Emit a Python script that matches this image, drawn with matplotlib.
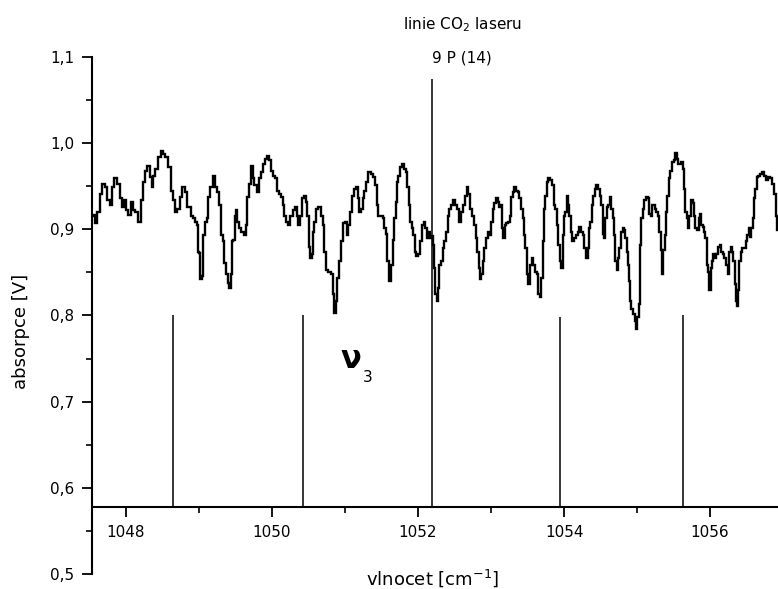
import matplotlib
matplotlib.use("Agg")
import matplotlib.pyplot as plt
from matplotlib.ticker import MultipleLocator, FuncFormatter

# ---- data ----
wavenumber = [
    1047.544, 1047.562, 1047.589, 1047.621, 1047.653, 1047.690, 1047.726, 1047.758, 1047.790, 1047.818,
    1047.863, 1047.895, 1047.927, 1047.954, 1047.986, 1048.018, 1048.046, 1048.078, 1048.110, 1048.146,
    1048.183, 1048.215, 1048.247, 1048.274, 1048.306, 1048.338, 1048.361, 1048.384, 1048.420, 1048.457,
    1048.489, 1048.521, 1048.557, 1048.594, 1048.626, 1048.649, 1048.685, 1048.717, 1048.749, 1048.786,
    1048.822, 1048.858,
    1048.876, 1048.899, 1048.931, 1048.958, 1048.976, 1048.990, 1049.013, 1049.022, 1049.050, 1049.068,
    1049.095, 1049.113, 1049.141, 1049.173, 1049.205, 1049.232, 1049.264, 1049.296, 1049.314, 1049.333,
    1049.351, 1049.378, 1049.406, 1049.424, 1049.447, 1049.461, 1049.479, 1049.497, 1049.515, 1049.538,
    1049.561, 1049.597, 1049.629, 1049.652, 1049.675, 1049.698, 1049.721, 1049.744, 1049.771, 1049.812,
    1049.835, 1049.862, 1049.881, 1049.917, 1049.949, 1049.972, 1049.995, 1050.027, 1050.054, 1050.082,
    1050.109, 1050.136, 1050.155, 1050.177, 1050.200, 1050.228,
    1050.269, 1050.301, 1050.328, 1050.346, 1050.374, 1050.392, 1050.420, 1050.451, 1050.474, 1050.497,
    1050.511, 1050.529, 1050.556, 1050.566, 1050.588, 1050.611, 1050.648, 1050.680, 1050.703, 1050.721,
    1050.748, 1050.785, 1050.817, 1050.840, 1050.862, 1050.885, 1050.908, 1050.931, 1050.954, 1050.977,
    1051.013, 1051.031, 1051.059, 1051.086, 1051.114, 1051.136, 1051.159, 1051.182, 1051.205, 1051.228,
    1051.251, 1051.273, 1051.296, 1051.333, 1051.365, 1051.397, 1051.424, 1051.442, 1051.470, 1051.502,
    1051.525, 1051.547, 1051.570, 1051.584, 1051.607,
    1051.639, 1051.662, 1051.685, 1051.698, 1051.716, 1051.744, 1051.767, 1051.790, 1051.817, 1051.844,
    1051.863, 1051.881, 1051.899, 1051.927, 1051.945, 1051.963, 1051.990, 1052.018, 1052.036, 1052.063,
    1052.091, 1052.109, 1052.127, 1052.155, 1052.173, 1052.191, 1052.210, 1052.228, 1052.246, 1052.264,
    1052.283, 1052.301, 1052.324, 1052.347, 1052.374, 1052.401, 1052.420, 1052.438, 1052.465, 1052.493,
    1052.520, 1052.547, 1052.575, 1052.602, 1052.630, 1052.657, 1052.675, 1052.694, 1052.721, 1052.748,
    1052.776, 1052.803, 1052.821, 1052.840, 1052.858, 1052.876, 1052.895, 1052.917, 1052.940, 1052.968,
    1052.986, 1053.009, 1053.032, 1053.054, 1053.077, 1053.100, 1053.123, 1053.146, 1053.160, 1053.178,
    1053.196, 1053.223, 1053.251, 1053.269, 1053.287, 1053.306, 1053.324, 1053.351, 1053.379, 1053.397,
    1053.424, 1053.443, 1053.461, 1053.479, 1053.497, 1053.525, 1053.543, 1053.570, 1053.589, 1053.616,
    1053.634, 1053.662, 1053.680, 1053.698, 1053.717, 1053.735, 1053.753, 1053.771, 1053.799, 1053.826,
    1053.854, 1053.872, 1053.890, 1053.908, 1053.927, 1053.954, 1053.972, 1053.991, 1054.009, 1054.027,
    1054.045, 1054.064, 1054.082, 1054.100, 1054.118, 1054.146, 1054.173, 1054.201, 1054.219, 1054.242,
    1054.265, 1054.287, 1054.310, 1054.333, 1054.347,
    1054.374, 1054.393, 1054.411, 1054.429, 1054.447, 1054.475, 1054.502, 1054.520, 1054.539, 1054.557,
    1054.575, 1054.593, 1054.612, 1054.639, 1054.657, 1054.676, 1054.694, 1054.712, 1054.730, 1054.749,
    1054.767, 1054.794, 1054.813, 1054.831, 1054.849, 1054.867, 1054.886, 1054.895, 1054.904, 1054.931,
    1054.959, 1054.977, 1054.995, 1055.014, 1055.032, 1055.041, 1055.050, 1055.068, 1055.087, 1055.105,
    1055.132, 1055.160, 1055.178, 1055.196, 1055.215, 1055.233, 1055.251, 1055.269, 1055.292, 1055.315,
    1055.333, 1055.352, 1055.370, 1055.388, 1055.406, 1055.425, 1055.443, 1055.461, 1055.489, 1055.516,
    1055.534, 1055.553, 1055.580,
    1055.612, 1055.635, 1055.653, 1055.671, 1055.689, 1055.708, 1055.726, 1055.749, 1055.772, 1055.790,
    1055.808, 1055.836, 1055.854, 1055.872, 1055.890, 1055.909, 1055.927, 1055.945, 1055.963, 1055.982,
    1056.000, 1056.018, 1056.037, 1056.055, 1056.073, 1056.100, 1056.128, 1056.146, 1056.164, 1056.183,
    1056.210, 1056.237, 1056.256, 1056.274, 1056.292, 1056.310, 1056.329, 1056.347, 1056.365, 1056.374,
    1056.393, 1056.411, 1056.429, 1056.457, 1056.484, 1056.502, 1056.521, 1056.539, 1056.557, 1056.575,
    1056.594, 1056.612, 1056.630, 1056.648, 1056.676, 1056.703, 1056.731, 1056.758, 1056.785, 1056.813,
    1056.840, 1056.868, 1056.895, 1056.913, 1056.932,
]

absorbance = [
    0.915, 0.917, 0.907, 0.920, 0.941, 0.953, 0.949, 0.934, 0.928, 0.949,
    0.959, 0.953, 0.936, 0.926, 0.934, 0.922, 0.917, 0.932, 0.922, 0.920,
    0.909, 0.934, 0.955, 0.968, 0.974, 0.961, 0.949, 0.962, 0.970, 0.984,
    0.991, 0.987, 0.984, 0.972, 0.945, 0.934, 0.920, 0.924, 0.938, 0.949,
    0.943, 0.926,
    0.926, 0.916, 0.913, 0.909, 0.905, 0.874, 0.872, 0.842, 0.846, 0.893,
    0.909, 0.913, 0.938, 0.949, 0.962, 0.949, 0.943, 0.928, 0.893, 0.886,
    0.861, 0.848, 0.838, 0.832, 0.848, 0.886, 0.888, 0.916, 0.922, 0.909,
    0.901, 0.897, 0.893, 0.905, 0.938, 0.953, 0.974, 0.959, 0.951, 0.943,
    0.959, 0.966, 0.976, 0.982, 0.985, 0.980, 0.968, 0.962, 0.959, 0.945,
    0.941, 0.938, 0.928, 0.916, 0.909, 0.905,
    0.916, 0.922, 0.926, 0.916, 0.905, 0.916, 0.936, 0.939, 0.932, 0.916,
    0.880, 0.867, 0.871, 0.897, 0.909, 0.924, 0.926, 0.916, 0.905, 0.874,
    0.853, 0.851, 0.848, 0.825, 0.803, 0.817, 0.844, 0.863, 0.886, 0.907,
    0.909, 0.893, 0.905, 0.920, 0.939, 0.947, 0.949, 0.936, 0.920, 0.924,
    0.936, 0.945, 0.955, 0.966, 0.964, 0.961, 0.951, 0.928, 0.916, 0.916,
    0.913, 0.901, 0.895, 0.863, 0.840,
    0.859, 0.888, 0.913, 0.932, 0.955, 0.962, 0.972, 0.976, 0.970, 0.966,
    0.949, 0.928, 0.909, 0.901, 0.893, 0.874, 0.869, 0.871, 0.886, 0.905,
    0.909, 0.901, 0.890, 0.897, 0.890, 0.892, 0.882, 0.855, 0.825, 0.817,
    0.832, 0.859, 0.863, 0.878, 0.886, 0.897, 0.916, 0.924, 0.928, 0.934,
    0.928, 0.924, 0.909, 0.920, 0.928, 0.939, 0.949, 0.941, 0.924, 0.916,
    0.905, 0.890, 0.874, 0.855, 0.842, 0.848, 0.863, 0.878, 0.890, 0.897,
    0.893, 0.909, 0.924, 0.930, 0.936, 0.932, 0.926, 0.928, 0.901, 0.890,
    0.905, 0.907, 0.909, 0.916, 0.938, 0.943, 0.949, 0.945, 0.943, 0.936,
    0.924, 0.913, 0.893, 0.878, 0.848, 0.836, 0.859, 0.867, 0.859, 0.851,
    0.848, 0.825, 0.821, 0.844, 0.886, 0.924, 0.939, 0.955, 0.959, 0.957,
    0.951, 0.928, 0.924, 0.905, 0.882, 0.863, 0.855, 0.893, 0.916, 0.920,
    0.939, 0.928, 0.916, 0.897, 0.886, 0.890, 0.893, 0.897, 0.903, 0.897,
    0.893, 0.878, 0.867, 0.878, 0.901,
    0.909, 0.928, 0.939, 0.947, 0.951, 0.947, 0.939, 0.928, 0.895, 0.890,
    0.913, 0.926, 0.928, 0.938, 0.924, 0.913, 0.893, 0.863, 0.853, 0.867,
    0.878, 0.897, 0.901, 0.899, 0.890, 0.874, 0.859, 0.840, 0.817, 0.807,
    0.802, 0.794, 0.784, 0.798, 0.813, 0.848, 0.882, 0.913, 0.924, 0.934,
    0.938, 0.936, 0.918, 0.916, 0.928, 0.928, 0.924, 0.920, 0.916, 0.897,
    0.876, 0.848, 0.876, 0.893, 0.920, 0.939, 0.959, 0.968, 0.978, 0.980,
    0.989, 0.982, 0.976,
    0.978, 0.970, 0.947, 0.920, 0.913, 0.901, 0.916, 0.934, 0.930, 0.916,
    0.901, 0.899, 0.913, 0.918, 0.905, 0.903, 0.897, 0.890, 0.859, 0.851,
    0.830, 0.855, 0.863, 0.871, 0.867, 0.871, 0.880, 0.882, 0.874, 0.871,
    0.867, 0.859, 0.848, 0.874, 0.880, 0.874, 0.863, 0.836, 0.817, 0.811,
    0.830, 0.863, 0.874, 0.878, 0.878, 0.886, 0.893, 0.901, 0.891, 0.901,
    0.913, 0.936, 0.947, 0.961, 0.962, 0.964, 0.966, 0.962, 0.957, 0.961,
    0.959, 0.953, 0.941, 0.916, 0.899,
]

# stick spectrum (nu3 band lines) and CO2 laser line
stick_positions = [1048.65, 1050.43, 1052.19, 1053.945, 1055.63]
stick_heights = [0.80, 0.80, 1.074, 0.798, 0.80]

y_ticks = [0.5, 0.6, 0.7, 0.8, 0.9, 1.0, 1.1]
x_ticks = [1048, 1050, 1052, 1054, 1056]

AXIS_Y = 0.578  # height at which the wavenumber axis is drawn

plt.rcParams['font.family'] = ['DejaVu Sans']

fig = plt.figure(figsize=(7.78, 5.89), dpi=100)
ax = fig.add_axes([92 / 778, 15 / 589, 686 / 778, 517 / 589])

ax.plot(wavenumber, absorbance, color='black', lw=1.7, drawstyle='steps-mid',
        solid_joinstyle='miter')
ax.vlines(stick_positions, AXIS_Y, stick_heights, color='black', lw=1.1)

ax.set_xlim(1047.534, 1056.93)
ax.set_ylim(0.5, 1.1)

for s in ('top', 'right'):
    ax.spines[s].set_visible(False)
ax.spines['bottom'].set_position(('data', AXIS_Y))
ax.spines['left'].set_linewidth(1.5)
ax.spines['bottom'].set_linewidth(1.5)

ax.set_yticks(y_ticks)
ax.yaxis.set_minor_locator(MultipleLocator(0.05))
ax.set_xticks(x_ticks)
ax.xaxis.set_minor_locator(MultipleLocator(1))

comma = FuncFormatter(lambda v, p: f"{v:.1f}".replace('.', ','))
ax.yaxis.set_major_formatter(comma)
ax.xaxis.set_major_formatter(FuncFormatter(lambda v, p: f"{v:.0f}"))

ax.tick_params(axis='both', which='major', direction='out', length=7, width=1.3,
               labelsize=11, pad=6)
ax.tick_params(axis='both', which='minor', direction='out', length=4, width=1.2)

# axis titles
fig.text(21 / 778, 1 - 331 / 589, 'absorpce [V]', rotation=90, ha='center', va='center',
         fontsize=13)
fig.text(433 / 778, 1 - 578 / 589, 'vlnocet [cm$^{-1}$]', ha='center', va='center',
         fontsize=13)

# annotations
fig.text(462 / 778, 1 - 25 / 589, 'linie CO$_2$ laseru', ha='center', va='center',
         fontsize=11)
fig.text(462 / 778, 1 - 58 / 589, '9 P (14)', ha='center', va='center', fontsize=11)
fig.text(351 / 778, 1 - 359 / 589, 'ν', ha='center', va='center', fontsize=22,
         fontweight='bold')
fig.text(368 / 778, 1 - 377 / 589, '3', ha='center', va='center', fontsize=11)

fig.savefig('out.png', dpi=100, facecolor='white')
